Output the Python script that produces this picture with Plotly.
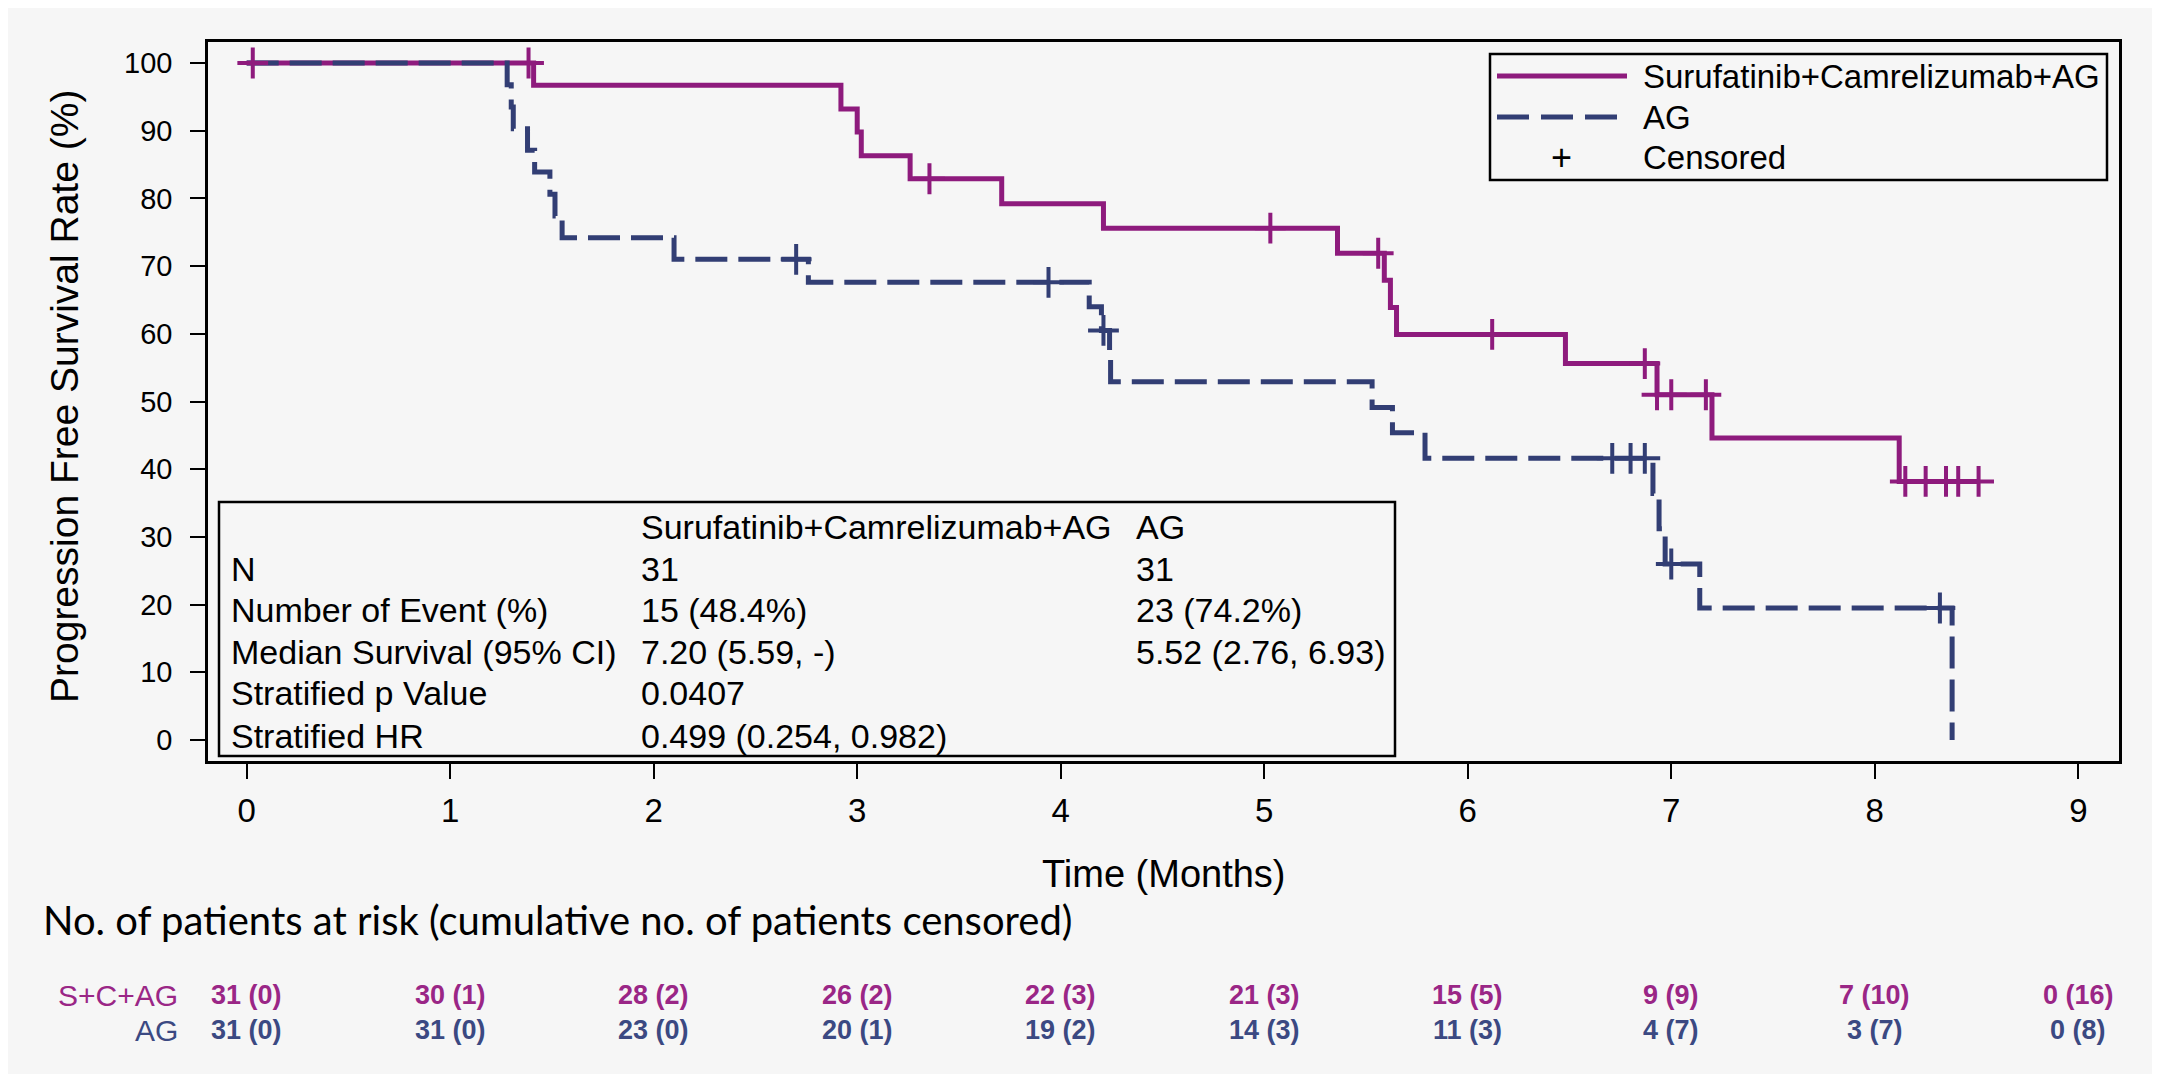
import plotly.graph_objects as go

# ---------------- data ----------------
sca_time = [0, 1.41, 2.92, 3.00, 3.02, 3.26, 3.71, 4.21, 5.36, 5.59, 5.62, 5.65, 6.48, 6.93, 7.20, 8.12, 8.51]
sca_surv = [100, 96.7, 93.2, 89.8, 86.3, 82.9, 79.2, 75.6, 71.9, 67.9, 63.9, 59.9, 55.6, 51.0, 44.6, 38.2, 38.2]
sca_cens_time = [0.03, 1.385, 3.355, 5.03, 5.56, 6.12, 6.87, 6.93, 7.00, 7.17, 8.15, 8.25, 8.35, 8.41, 8.51]
sca_cens_surv = [100, 100, 82.9, 75.6, 71.9, 59.9, 55.6, 51.0, 51.0, 51.0, 38.2, 38.2, 38.2, 38.2, 38.2]

ag_time = [0, 1.28, 1.30, 1.31, 1.38, 1.415, 1.49, 1.515, 1.55, 2.10, 2.76, 4.14, 4.20, 4.24, 4.245,
           5.53, 5.63, 5.79, 6.91, 6.94, 6.97, 7.14, 8.38]
ag_surv = [100, 96.8, 93.5, 90.3, 87.1, 83.9, 80.6, 77.4, 74.2, 71.0, 67.6, 64.0, 60.5, 56.7, 52.9,
           49.1, 45.4, 41.6, 36.4, 31.2, 26.0, 19.5, 0]
ag_cens_time = [2.70, 3.94, 4.21, 6.71, 6.80, 6.87, 7.00, 8.32]
ag_cens_surv = [71.0, 67.6, 60.5, 41.6, 41.6, 41.6, 26.0, 19.5]

x_ticks = [0, 1, 2, 3, 4, 5, 6, 7, 8, 9]
y_ticks = [0, 10, 20, 30, 40, 50, 60, 70, 80, 90, 100]

risk_sca = ["31 (0)", "30 (1)", "28 (2)", "26 (2)", "22 (3)", "21 (3)", "15 (5)", "9 (9)", "7 (10)", "0 (16)"]
risk_ag = ["31 (0)", "31 (0)", "23 (0)", "20 (1)", "19 (2)", "14 (3)", "11 (3)", "4 (7)", "3 (7)", "0 (8)"]

stats_header = ["", "Surufatinib+Camrelizumab+AG", "AG"]
stats_rows = [
    ["N", "31", "31"],
    ["Number of Event (%)", "15 (48.4%)", "23 (74.2%)"],
    ["Median Survival (95% CI)", "7.20 (5.59, -)", "5.52 (2.76, 6.93)"],
    ["Stratified p Value", "0.0407", ""],
    ["Stratified HR", "0.499 (0.254, 0.982)", ""],
]

name_sca = "Surufatinib+Camrelizumab+AG"
name_ag = "AG"

# ---------------- style ----------------
OFF = 8  # page body margin of the browser
W, H = 2160 - OFF, 1074 - OFF
P_LEFT, P_RIGHT, P_TOP, P_BOTTOM = 208, 2119, 42, 761   # plot frame in screen pixels
ML, MT = P_LEFT - OFF, P_TOP - OFF
MR, MB = 2160 - P_RIGHT, 1074 - P_BOTTOM
PW, PH = P_RIGHT - P_LEFT, P_BOTTOM - P_TOP
MAG = "#8E1B7D"
NAVY = "#323E74"
MAG_T = "#9A2686"
NAVY_T = "#3B4982"
BG = "#F6F6F6"
FONT = "Liberation Sans, Arial, sans-serif"
DASH = "32px,11px"


def px(xp):
    return (xp - P_LEFT) / PW


def py(yp):
    return (P_BOTTOM - yp) / PH


fig = go.Figure()
fig.add_trace(go.Scatter(x=sca_time, y=sca_surv, mode="lines", line=dict(color=MAG, width=5, shape="hv"),
                         name=name_sca, showlegend=False))
fig.add_trace(go.Scatter(x=ag_time, y=ag_surv, mode="lines", line=dict(color=NAVY, width=5, shape="hv", dash=DASH),
                         name=name_ag, showlegend=False))
fig.add_trace(go.Scatter(x=sca_cens_time, y=sca_cens_surv, mode="markers",
                         marker=dict(symbol="cross-thin", size=22, color=MAG, line=dict(color=MAG, width=4)),
                         showlegend=False))
fig.add_trace(go.Scatter(x=ag_cens_time, y=ag_cens_surv, mode="markers",
                         marker=dict(symbol="cross-thin", size=22, color=NAVY, line=dict(color=NAVY, width=4)),
                         showlegend=False))

shapes = []
annotations = []

# legend box
shapes.append(dict(type="rect", xref="paper", yref="paper", x0=px(1490), x1=px(2107), y0=py(180), y1=py(54),
                   line=dict(color="black", width=2.5), fillcolor=BG, layer="above"))
shapes.append(dict(type="line", xref="paper", yref="paper", x0=px(1497), x1=px(1627), y0=py(76), y1=py(76),
                   line=dict(color=MAG, width=5)))
shapes.append(dict(type="line", xref="paper", yref="paper", x0=px(1497), x1=px(1627), y0=py(117), y1=py(117),
                   line=dict(color=NAVY, width=5, dash="32px,12px")))
legend_items = [(name_sca, 76), (name_ag, 117), ("Censored", 158)]
for txt, yy in legend_items:
    annotations.append(dict(text=txt, xref="paper", yref="paper", x=px(1641), y=py(yy), xanchor="left",
                            yanchor="middle", showarrow=False, font=dict(family=FONT, size=33, color="black")))
annotations.append(dict(text="+", xref="paper", yref="paper", x=px(1561), y=py(158), xanchor="center",
                        yanchor="middle", showarrow=False, font=dict(family=FONT, size=36, color="black")))

# stats box
shapes.append(dict(type="rect", xref="paper", yref="paper", x0=px(219), x1=px(1395), y0=py(756), y1=py(502),
                   line=dict(color="black", width=2.5), fillcolor=BG, layer="above"))
col_x = [229, 639, 1134]
row_y = [527, 569, 610, 652, 693, 736]
all_rows = [stats_header] + stats_rows
for r, row in enumerate(all_rows):
    for c, cell in enumerate(row):
        if cell:
            annotations.append(dict(text=cell, xref="paper", yref="paper", x=px(col_x[c]), y=py(row_y[r]),
                                    xanchor="left", yanchor="middle", showarrow=False,
                                    font=dict(family=FONT, size=34, color="black")))

# axis titles
annotations.append(dict(text="Time (Months)", xref="paper", yref="paper", x=0.5, y=py(874), xanchor="center",
                        yanchor="middle", showarrow=False, font=dict(family=FONT, size=38, color="black")))
annotations.append(dict(text="Progression Free Survival Rate (%)", xref="paper", yref="paper", x=px(64),
                        y=py(397), xanchor="center", yanchor="middle", textangle=-90, showarrow=False,
                        font=dict(family=FONT, size=39, color="black")))

# at risk table
annotations.append(dict(text="No. of patients at risk (cumulative no. of patients censored)", xref="paper",
                        yref="paper", x=px(41), y=py(920), xanchor="left", yanchor="middle", showarrow=False,
                        font=dict(family="Lato, sans-serif", size=40, color="black")))
annotations.append(dict(text="S+C+AG", xref="paper", yref="paper", x=px(180), y=py(995), xanchor="right",
                        yanchor="middle", showarrow=False, font=dict(family=FONT, size=30, color=MAG_T)))
annotations.append(dict(text="AG", xref="paper", yref="paper", x=px(180), y=py(1030), xanchor="right",
                        yanchor="middle", showarrow=False, font=dict(family=FONT, size=30, color=NAVY_T)))
for xt, a, b in zip(x_ticks, risk_sca, risk_ag):
    annotations.append(dict(text="<b>%s</b>" % a, xref="x", yref="paper", x=xt, y=py(995), xanchor="center",
                            yanchor="middle", showarrow=False, font=dict(family=FONT, size=27, color=MAG_T)))
    annotations.append(dict(text="<b>%s</b>" % b, xref="x", yref="paper", x=xt, y=py(1030), xanchor="center",
                            yanchor="middle", showarrow=False, font=dict(family=FONT, size=27, color=NAVY_T)))

fig.update_layout(
    width=W, height=H,
    margin=dict(l=ML, r=MR, t=MT, b=MB),
    paper_bgcolor=BG, plot_bgcolor=BG,
    shapes=shapes, annotations=annotations,
    showlegend=False,
    xaxis=dict(range=[-0.19, 9.2], tickvals=x_ticks, ticktext=[str(v) for v in x_ticks],
               showgrid=False, zeroline=False, showline=True, mirror=True, linecolor="black", linewidth=2.5,
               ticks="outside", ticklen=15, tickwidth=2, tickcolor="black", ticklabelstandoff=4,
               tickfont=dict(family=FONT, size=33, color="black")),
    yaxis=dict(range=[-3.1, 103.1], tickvals=y_ticks, ticktext=[str(v) for v in y_ticks],
               showgrid=False, zeroline=False, showline=True, mirror=True, linecolor="black", linewidth=2.5,
               ticks="outside", ticklen=15, tickwidth=2, tickcolor="black", ticklabelstandoff=12,
               tickfont=dict(family=FONT, size=29, color="black")),
)

fig.write_html("out.html")
